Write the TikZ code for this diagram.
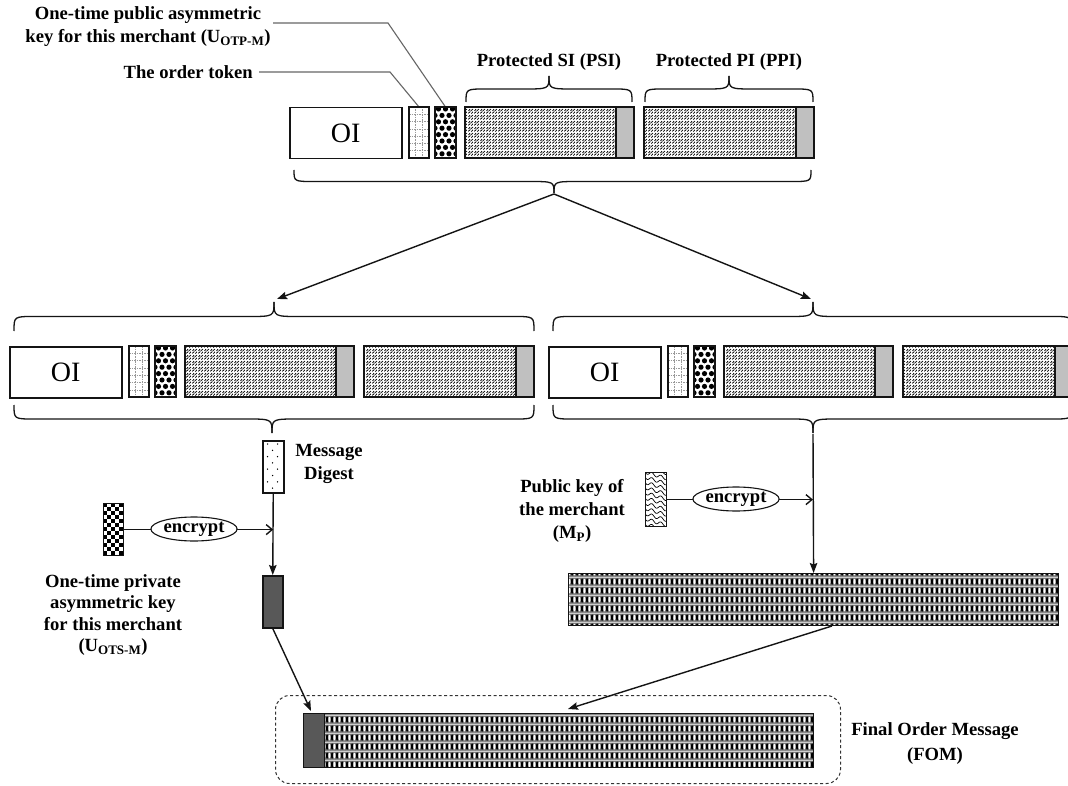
\documentclass[tikz,border=0pt]{standalone}
\usepackage{fontspec}
\setmainfont{Liberation Serif}
\usetikzlibrary{arrows.meta,shapes.geometric,patterns,patterns.meta}

\definecolor{stripgrey}{RGB}{192,192,192}
\definecolor{darkfill}{RGB}{88,88,88}
\definecolor{penc}{RGB}{20,20,20}

\tikzdeclarepattern{
  name=squig, type=uncolored,
  bottom left={(0pt,0pt)}, top right={(6pt,6pt)},
  tile size={(6pt,6pt)},
  code={
    \draw[line width=0.85pt] (0.3pt,0.7pt) .. controls (2.4pt,0.7pt) and (0.6pt,2.9pt) .. (2.8pt,2.9pt);
    \draw[line width=0.85pt] (3.2pt,3.6pt) .. controls (5.3pt,3.6pt) and (3.5pt,5.6pt) .. (5.7pt,5.6pt);
    \draw[line width=0.85pt] (4.0pt,0.5pt) .. controls (5.2pt,1.2pt) and (4.6pt,2.4pt) .. (5.7pt,2.6pt);
    \draw[line width=0.85pt] (0.6pt,3.6pt) .. controls (1.6pt,4.4pt) and (1.2pt,5.4pt) .. (2.4pt,5.6pt);
  }
}
\tikzdeclarepattern{
  name=weave, type=colored,
  bottom left={(0pt,0pt)}, top right={(5.2pt,8.65pt)},
  tile size={(5.2pt,8.65pt)},
  code={
    \fill[black!55] (0pt,0pt) rectangle (5.2pt,8.65pt);
    \fill[black] (1.3pt,4.6pt) ellipse (1.35pt and 3.3pt);
    \fill[white] (3.9pt,4.6pt) ellipse (1.2pt and 3.0pt);
    \fill[black!45] (0pt,0pt) rectangle (5.2pt,0.9pt);
  }
}

\tikzset{
  pen/.style={draw=penc, line width=1.5pt},
  thinpen/.style={draw=penc, line width=1.2pt},
  lbl/.style={font=\bfseries\fontsize{18.6}{23}\selectfont, inner sep=0pt},
  arr/.style={-{Stealth[length=10pt,width=7.5pt,inset=1.5pt]}, line width=1.4pt, draw=penc},
  openarr/.style={-{Straight Barb[length=6pt,width=10pt]}, line width=1.4pt, draw=penc},
  leader/.style={draw=black!60, line width=1.1pt},
  bracepen/.style={draw=penc, line width=1.3pt},
  tokgrid/.style={draw=black!40, line width=0.6pt, dash pattern=on 1.5pt off 1pt},
  encr/.style={ellipse, draw=penc, line width=1.1pt, minimum width=78pt, minimum height=24pt,
    inner sep=0pt, fill=white, font=\bfseries\fontsize{18.6}{20}\selectfont},
  plainbox/.style={rectangle, inner sep=0pt, anchor=north west},
  fomdash/.style={rectangle, draw=black!80, line width=1pt, dash pattern=on 3pt off 2.5pt,
    rounded corners=14pt, inner sep=0pt, anchor=north west},
}

\newcommand{\mybrace}[5]{%
  \pgfmathsetmacro{\bym}{(#4+#5)/2}%
  \pgfmathsetmacro{\bxa}{#1+20}\pgfmathsetmacro{\bxb}{#3-26}%
  \pgfmathsetmacro{\bxc}{#3+26}\pgfmathsetmacro{\bxd}{#2-20}%
  \draw[bracepen] (#1,#4) .. controls (#1,\bym) .. (\bxa,\bym) -- (\bxb,\bym) .. controls (#3,\bym) .. (#3,#5);
  \draw[bracepen] (#2,#4) .. controls (#2,\bym) .. (\bxd,\bym) -- (\bxc,\bym) .. controls (#3,\bym) .. (#3,#5);
}

\newcommand{\msgrow}[3]{%
 \begin{scope}[shift={(#1,#2)}]
  \node[pen, plainbox, minimum width=112pt, minimum height=51pt, font=\fontsize{28}{30}\selectfont] (#3oi) at (0,0) {OI};
  % order token
  \fill[white] (120,0) rectangle (140,51);
  \draw[tokgrid] (126.7,0) -- (126.7,51) (133.3,0) -- (133.3,51);
  \foreach \k in {1,...,6} \draw[tokgrid] (120,{\k*7.3}) -- (140,{\k*7.3});
  \draw[pen] (120,0) rectangle (140,51);
  % one-time public key
  \begin{scope}
   \clip (146,0) rectangle (167,51);
   \fill[white] (146,0) rectangle (167,51);
   \foreach \rr in {0,2,4,6,8} \foreach \cc in {149.5,156.5,163.5} \fill (\cc,{\rr*6.4+2}) circle (2.6pt);
   \foreach \rr in {1,3,5,7} \foreach \cc in {146,153,160,167} \fill (\cc,{\rr*6.4+2}) circle (2.6pt);
  \end{scope}
  \draw[pen] (146,0) rectangle (167,51);
  % PSI
  \fill[pattern=squig, pattern color=black] (176,0) rectangle (327,51);
  \fill[stripgrey] (327,0) rectangle (345,51);
  \draw[pen] (176,0) rectangle (345,51) (327,0) -- (327,51);
  % PPI
  \fill[pattern=squig, pattern color=black] (355,0) rectangle (507,51);
  \fill[stripgrey] (507,0) rectangle (525,51);
  \draw[pen] (355,0) rectangle (525,51) (507,0) -- (507,51);
 \end{scope}}

\begin{document}
\begin{tikzpicture}[x=1pt,y=-1pt]
\useasboundingbox (0,0) rectangle (1068,786);
\fill[white] (0,0) rectangle (1068,786);

% ---- top labels and leader lines
\node[lbl, align=center] (otpub) at (148,26.5) {One-time public asymmetric\\key for this merchant (U\textsubscript{OTP-M})};
\node[lbl, anchor=east] (ordtok) at (253,72) {The order token};
\coordinate (l1a) at (273,23); \coordinate (l1b) at (388,23); \coordinate (l1c) at (445.5,107);
\coordinate (l2a) at (259,72); \coordinate (l2b) at (390,72); \coordinate (l2c) at (419,107);
\draw[leader] (l1a) -- (l1b) -- (l1c);
\draw[leader] (l2a) -- (l2b) -- (l2c);

\node[lbl] (psilbl) at (549,62) {Protected SI (PSI)};
\node[lbl] (ppilbl) at (729,62) {Protected PI (PPI)};
\mybrace{466}{632}{549}{102}{76}
\mybrace{645}{813}{729}{102}{76}

% ---- message rows
\msgrow{289}{107}{top}
\msgrow{9}{346}{ml}
\msgrow{548}{346}{mr}

% ---- braces and split arrows
\mybrace{294}{811}{554}{170}{193}
\mybrace{14}{534}{274}{331}{302}
\mybrace{553}{1072}{813}{331}{302}
\mybrace{14}{534}{272}{405}{433}
\mybrace{553}{1072}{813}{405}{433}
\coordinate (ttip) at (554,194);
\coordinate (lmtip) at (277,299);
\coordinate (rmtip) at (811,299);
\draw[arr] (ttip) -- (lmtip);
\draw[arr] (ttip) -- (rmtip);
\coordinate (lbtip) at (272.5,434);
\coordinate (rbtip) at (813,434);

% ---- left branch: message digest, signing
\node[pen, plainbox, minimum width=21pt, minimum height=52pt, fill=white] (digest) at (262,440) {};
\foreach \k in {0,...,7} {
  \pgfmathsetmacro\yy{444+\k*6.3}
  \ifodd\k \fill (272.5,\yy) circle (0.75pt); \else \fill (267.5,\yy) circle (0.75pt); \fill (277.5,\yy) circle (0.75pt); \fi
}
\node[lbl, align=center] (mdlbl) at (329,464) {Message\\Digest};

\begin{scope}
 \clip (103,503) rectangle (123,555);
 \foreach \i in {0,...,4} \foreach \j in {0,...,12} {
   \pgfmathtruncatemacro\pp{mod(\i+\j,2)}
   \ifnum\pp=0 \fill ({103+4*\i},{503+4*\j}) rectangle ++(4,4); \fi
 }
\end{scope}
\node[thinpen, plainbox, minimum width=20pt, minimum height=52pt] (privkey) at (103,503) {};
\node[lbl, align=center, font=\bfseries\fontsize{18.6}{21.5}\selectfont] (prlbl) at (113,615) {One-time private\\asymmetric key\\for this merchant\\(U\textsubscript{OTS-M})};

\node[pen, plainbox, minimum width=20pt, minimum height=52pt, fill=darkfill] (darkbox) at (262,575) {};
\draw[arr] (digest.south) -- (darkbox.north);
\draw[openarr] (privkey.east) -- (privkey.east -| digest.south);
\node[encr] (enc1) at (194,529) {encrypt};

% ---- right branch: encryption with merchant public key
\begin{scope}
 \clip (645,472) rectangle (666,526);
 \fill[white] (645,472) rectangle (666,526);
 \foreach \k in {-3,...,11}
   \draw[line width=0.7pt, domain=0:21, samples=22, smooth] plot ({645+\x},{472+\k*5.2+0.3*\x+1.6*sin(\x*40)});
\end{scope}
\node[thinpen, plainbox, minimum width=21pt, minimum height=54pt] (pubkey) at (645,472) {};
\node[lbl, align=center] (pklbl) at (572,511) {Public key of\\the merchant\\(M\textsubscript{P})};

\node[thinpen, plainbox, minimum width=490pt, minimum height=52pt, pattern=weave] (bigbar) at (568,573) {};
\draw[arr] (rbtip) -- (bigbar.north);
\draw[openarr] (pubkey.east) -- (pubkey.east -| rbtip);
\node[encr] (enc2) at (736,499) {encrypt};

% ---- final order message
\node[fomdash, minimum width=565pt, minimum height=88pt] (fomouter) at (275,695) {};
\node[thinpen, plainbox, minimum width=510pt, minimum height=54pt, pattern=weave] (fombar) at (303,713) {};
\node[thinpen, plainbox, minimum width=21pt, minimum height=54pt, fill=darkfill] (fomdark) at (303,713) {};
\node[lbl, align=center, font=\bfseries\fontsize{18.6}{25}\selectfont] (fomlbl) at (935,744) {Final Order Message\\(FOM)};

\coordinate (fomL) at (311,711);
\coordinate (barR) at (832,626);
\coordinate (fomR) at (568,709);
\draw[arr] (darkbox.south) -- (fomL);
\draw[arr] (barR) -- (fomR);
\end{tikzpicture}
\end{document}
